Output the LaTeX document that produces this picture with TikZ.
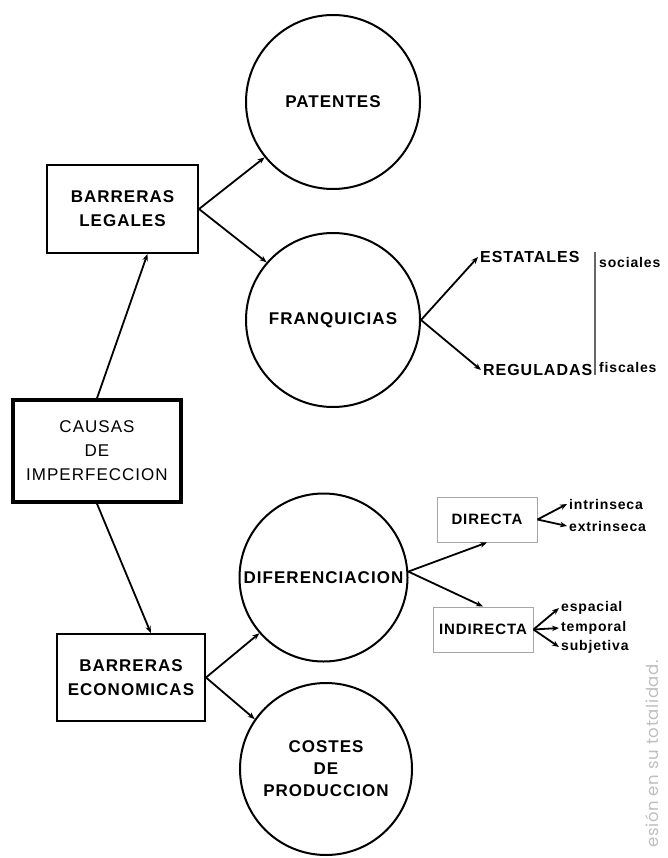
\documentclass[tikz,border=0pt]{standalone}
\usepackage{fontspec}
\setmainfont{Liberation Sans}
\newfontfamily\spaced[LetterSpace=6]{Liberation Sans}
\newfontfamily\wmfont[LetterSpace=4]{Poppins}
\usetikzlibrary{arrows.meta}
\begin{document}
\begin{tikzpicture}[x=1pt,y=-1pt,
  circ/.style={circle,draw,line width=2pt,inner sep=0pt,align=center,
    font=\spaced\bfseries\fontsize{17}{22}\selectfont},
  bx/.style={rectangle,draw,line width=2pt,inner sep=0pt,align=center,
    font=\spaced\bfseries\fontsize{17}{24}\selectfont},
  sbx/.style={rectangle,draw=gray!70,line width=1pt,inner sep=0pt,align=center,
    minimum width=100pt,minimum height=45pt,
    font=\spaced\bfseries\fontsize{15}{18}\selectfont},
  lbl/.style={anchor=west,inner sep=2pt,font=\spaced\bfseries\fontsize{16}{18}\selectfont},
  sml/.style={anchor=west,inner sep=2pt,font=\spaced\bfseries\fontsize{14}{16}\selectfont},
  arr/.style={line width=1.8pt,-{Stealth[length=7pt,width=5.5pt]}}]
\useasboundingbox[fill=white] (0,0) rectangle (667,858);

% circles
\node[circ,minimum size=174pt] (pat) at (333,102) {PATENTES};
\node[circ,minimum size=174pt] (fran) at (333,320) {FRANQUICIAS};
\node[circ,minimum size=168pt] (diff) at (323.5,577.5) {DIFERENCIACION};
\node[circ,minimum size=172pt] (cost) at (326,769) {COSTES\\DE\\PRODUCCION};

% boxes
\node[bx,minimum width=151pt,minimum height=88pt] (legal) at (122.5,209) {BARRERAS\\LEGALES};
\node[bx,line width=3.5pt,minimum width=168pt,minimum height=102pt,
  font=\spaced\fontsize{17}{24}\selectfont] (causas) at (97,451) {CAUSAS\\DE\\IMPERFECCION};
\node[bx,minimum width=148pt,minimum height=87pt] (econ) at (131,677.5) {BARRERAS\\ECONOMICAS};
\node[sbx] (directa) at (487,519.5) {DIRECTA};
\node[sbx] (indirecta) at (483,629.5) {INDIRECTA};

% labels
\node[lbl] (est) at (478,257) {ESTATALES};
\node[lbl] (reg) at (481,370) {REGULADAS};
\node[sml] (soc) at (597,262) {sociales};
\node[sml] (fis) at (597,367) {fiscales};
\node[sml] (intr) at (567,504) {intrinseca};
\node[sml] (extr) at (567,526) {extrinseca};
\node[sml] (esp) at (559,608) {espacial};
\node[sml] (temp) at (559,628) {temporal};
\node[sml] (subj) at (559,647) {subjetiva};

\coordinate (vt) at (595,252);
\coordinate (vb) at (595,375);
\draw[gray!80!black,line width=2pt] (vt) -- (vb);

% connectors
\draw[arr] (causas.north) -- (legal.-61);
\draw[arr] (causas.south) -- (econ.66);
\draw[arr] (legal.east) -- (pat.219);
\draw[arr] (legal.east) -- (fran.139);
\draw[arr] (fran.east) -- (est.west);
\draw[arr] (fran.east) -- (reg.west);
\draw[arr] (econ.east) -- (diff.221.5);
\draw[arr] (econ.east) -- (cost.145);
\draw[arr] (diff.4) -- (directa.south);
\draw[arr] (diff.4) -- (indirecta.north);
\draw[arr] (directa.east) -- (intr.west);
\draw[arr] (directa.east) -- (extr.west);
\draw[arr] (indirecta.east) -- (esp.west);
\draw[arr] (indirecta.east) -- (temp.west);
\draw[arr] (indirecta.east) -- (subj.west);

% watermark
\node[rotate=90,anchor=west,inner sep=0pt,text=gray!50,
  font=\wmfont\fontsize{16.5}{18}\selectfont] (wm) at (652,848) {esión en su totalidad.};
\end{tikzpicture}
\end{document}
